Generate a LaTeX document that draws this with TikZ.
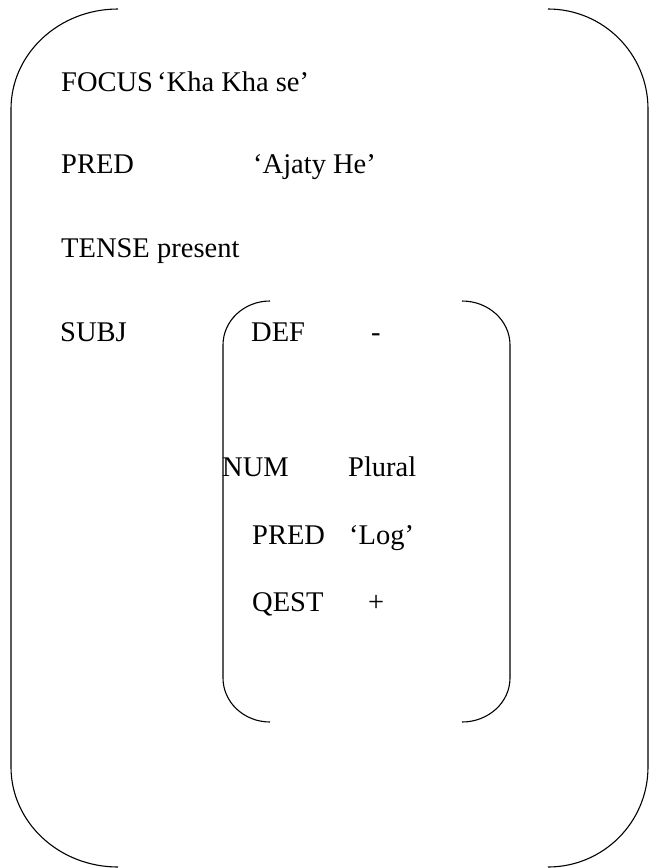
\documentclass[tikz,border=0pt]{standalone}
\usepackage{fontspec}
\setmainfont{Liberation Serif}
\usepackage{tikz}
\tikzset{
  lbl/.style={anchor=base west, inner sep=0pt, font=\fontsize{28.5}{32}\selectfont},
  brak/.style={line width=1.1pt}
}

\begin{document}
\begin{tikzpicture}[x=1pt,y=-1pt]
\useasboundingbox (0,0) rectangle (649,868);

% outer f-structure brackets
\draw[brak] (118,9) arc[start angle=270, end angle=180, x radius=107, y radius=100]
  -- (11,767) arc[start angle=180, end angle=90, x radius=107, y radius=100];
\draw[brak] (548,9) arc[start angle=270, end angle=360, x radius=100, y radius=100]
  -- (648,767) arc[start angle=0, end angle=90, x radius=100, y radius=100];

% outer attributes
\node[lbl] (focus) at (61,91) {FOCUS};
\node[lbl] (focusv) at (157,91) {‘Kha Kha se’};
\node[lbl] (pred) at (61,173) {PRED};
\node[lbl] (predv) at (253,173) {‘Ajaty He’};
\node[lbl] (tense) at (61,257) {TENSE};
\node[lbl] (tensev) at (157,257) {present};
\node[lbl] (subj) at (60,341) {SUBJ};

% SUBJ value brackets
\draw[brak] (270,301) arc[start angle=270, end angle=180, x radius=47, y radius=44]
  -- (223,678) arc[start angle=180, end angle=90, x radius=47, y radius=44];
\draw[brak] (462,301) arc[start angle=270, end angle=360, x radius=48, y radius=44]
  -- (510,678) arc[start angle=0, end angle=90, x radius=48, y radius=44];

% SUBJ attributes
\node[lbl] (def) at (251,341) {DEF};
\node[lbl] (defv) at (371,341) {-};
\node[lbl] (num) at (222,476) {NUM};
\node[lbl] (numv) at (348,476) {Plural};
\node[lbl] (spred) at (252,544) {PRED};
\node[lbl] (spredv) at (349,544) {‘Log’};
\node[lbl] (qest) at (252,611) {QEST};
\node[lbl] (qestv) at (368,611) {+};
\end{tikzpicture}
\end{document}
